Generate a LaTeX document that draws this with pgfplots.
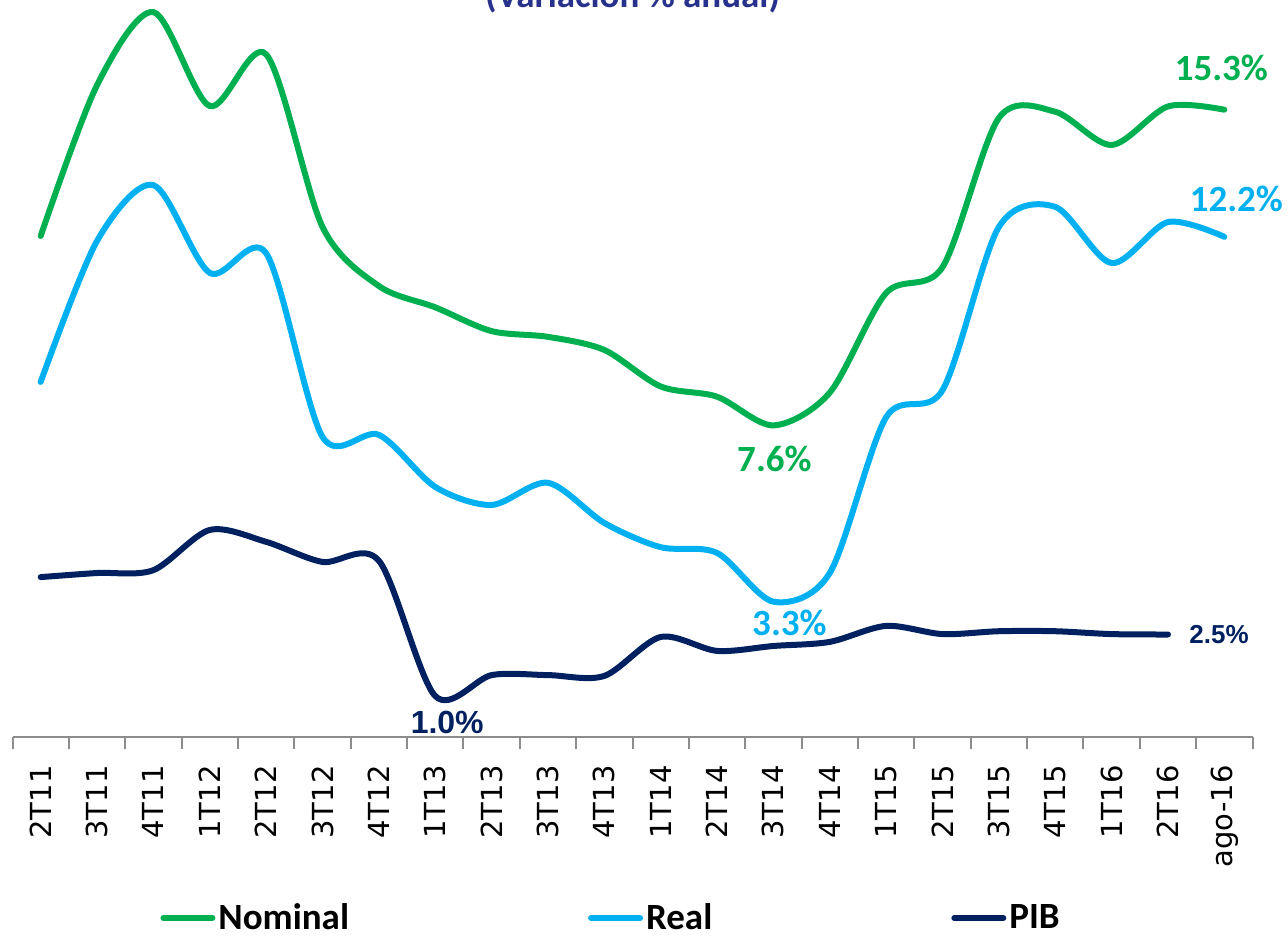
\documentclass[border=0pt]{standalone}
\usepackage{pgfplots}
\pgfplotsset{compat=1.18}
\usepackage{fontspec}
\setmainfont{DejaVu Sans}
\newfontfamily\carlito{Carlito}
\newfontfamily\libsans{Liberation Sans}
\definecolor{cNom}{HTML}{00B050}
\definecolor{cReal}{HTML}{00B0F0}
\definecolor{cPIB}{HTML}{002060}
\definecolor{cTitle}{RGB}{40,50,140}
\definecolor{cAxis}{RGB}{140,140,140}
\begin{document}
\begin{tikzpicture}
\begin{axis}[
  at={(0,0)}, anchor=south west,
  scale only axis, width=620pt, height=369pt,
  xmin=-0.5, xmax=21.5, ymin=0, ymax=18,
  axis x line=bottom, axis y line=none,
  x axis line style={-, cAxis, line width=1pt},
  xtick={0,...,21},
  xticklabels={2T11,3T11,4T11,1T12,2T12,3T12,4T12,1T13,2T13,3T13,4T13,1T14,2T14,3T14,4T14,1T15,2T15,3T15,4T15,1T16,2T16,ago-16},
  major tick length=0pt,
  xticklabel style={rotate=90, anchor=east, inner sep=0pt, font=\fontsize{14.5}{15}\selectfont},
  xticklabel shift=14pt,
  extra x ticks={-0.5,0.5,...,21.5},
  extra x tick labels={},
  extra x tick style={major tick length=6pt, tick align=outside, tick style={cAxis, line width=1pt}},
  clip=false,
  legend columns=3,
  legend style={draw=none, fill=none, inner sep=0pt, at={(0,0)}, anchor=west, xshift=73.75pt, yshift=-90.5pt,
    font=\carlito\bfseries\fontsize{18.5}{20}\selectfont,
    nodes={inner sep=1.5pt},
    /tikz/every even column/.append style={column sep=118pt}},
  legend image code/.code={\draw[#1, line width=3pt, line cap=round] (1.5pt,0pt) -- (26pt,0pt);},
]
\addplot[cNom, line width=3pt, smooth, tension=0.5, line cap=round] coordinates {
(0,12.22)(1,15.9)(2,17.68)(3,15.39)(4,16.65)(5,12.44)(6,11.0)(7,10.48)(8,9.9)(9,9.76)(10,9.44)(11,8.55)(12,8.3)(13,7.6)(14,8.4)(15,10.83)(16,11.46)(17,15.1)(18,15.25)(19,14.44)(20,15.38)(21,15.3)};
\addlegendentry{Nominal}
\addplot[cReal, line width=3pt, smooth, tension=0.5, line cap=round] coordinates {
(0,8.66)(1,12.1)(2,13.46)(3,11.32)(4,11.8)(5,7.32)(6,7.37)(7,6.1)(8,5.66)(9,6.2)(10,5.22)(11,4.63)(12,4.49)(13,3.3)(14,4.0)(15,7.8)(16,8.46)(17,12.44)(18,12.93)(19,11.56)(20,12.56)(21,12.2)};
\addlegendentry{Real}
\addplot[cPIB, line width=3pt, smooth, tension=0.5, line cap=round] coordinates {
(0,3.9)(1,4.0)(2,4.07)(3,5.05)(4,4.76)(5,4.27)(6,4.3)(7,1.0)(8,1.51)(9,1.51)(10,1.49)(11,2.44)(12,2.1)(13,2.22)(14,2.32)(15,2.71)(16,2.51)(17,2.58)(18,2.58)(19,2.51)(20,2.5)};
\addlegendentry{PIB}
\node[anchor=south, inner sep=0pt, yshift=14pt, xshift=-1.5pt, text=cNom, font=\carlito\bfseries\fontsize{18.5}{20}\selectfont] at (axis cs:21,15.3) {15.3\%};
\node[anchor=south, inner sep=0pt, yshift=12.5pt, xshift=6pt, text=cReal, font=\carlito\bfseries\fontsize{18.5}{20}\selectfont] at (axis cs:21,12.2) {12.2\%};
\node[anchor=north, inner sep=0pt, yshift=-10pt, xshift=0.5pt, text=cNom, font=\carlito\bfseries\fontsize{18.5}{20}\selectfont] at (axis cs:13,7.6) {7.6\%};
\node[anchor=north, inner sep=0pt, yshift=-4pt, xshift=8pt, text=cReal, font=\carlito\bfseries\fontsize{18.5}{20}\selectfont] at (axis cs:13,3.3) {3.3\%};
\node[anchor=north, inner sep=0pt, yshift=-7.5pt, xshift=6pt, text=cPIB, font=\libsans\bfseries\fontsize{16}{17}\selectfont] at (axis cs:7,1.0) {1.0\%};
\node[anchor=west, inner sep=0pt, xshift=10.5pt, text=cPIB, font=\libsans\bfseries\fontsize{13}{14}\selectfont] at (axis cs:20,2.5) {2.5\%};
\end{axis}
\node[anchor=base, text=cTitle, font=\carlito\bfseries\fontsize{18.5}{20}\selectfont] at (310pt,364.5pt) {(Variación \% anual)};
\pgfresetboundingbox
\path[use as bounding box] (-6.25pt,-100pt) rectangle (637.75pt,368.5pt);
\end{tikzpicture}
\end{document}
